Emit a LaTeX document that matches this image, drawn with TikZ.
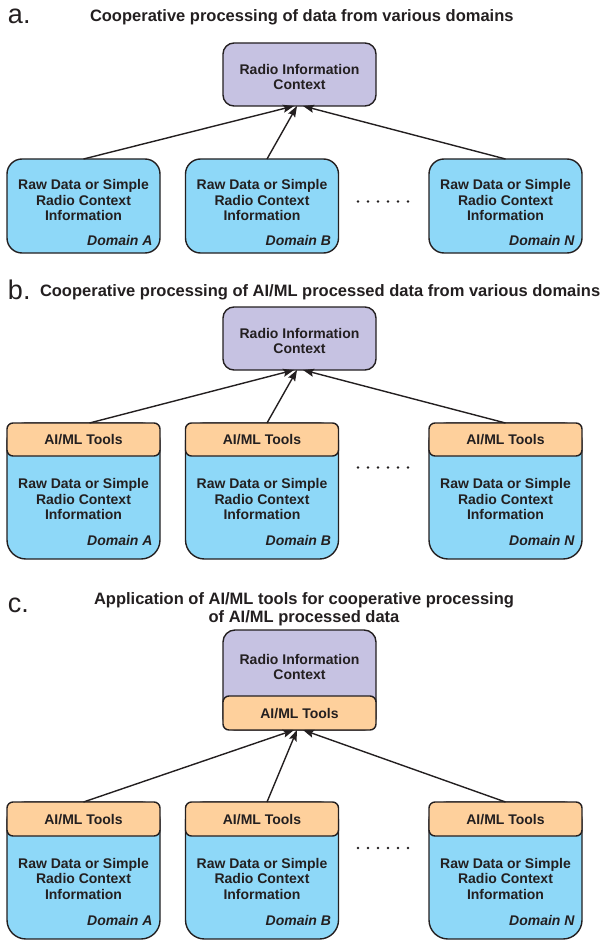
\documentclass[tikz,border=0pt]{standalone}
\usepackage{fontspec}
\setmainfont{Liberation Sans}
\usetikzlibrary{arrows.meta,calc}
\definecolor{ctxfill}{HTML}{C6C2E2}
\definecolor{rawfill}{HTML}{8ED8F8}
\definecolor{toolfill}{HTML}{FED09C}
\definecolor{ink}{HTML}{231F20}
\begin{document}
\begin{tikzpicture}[x=1pt,y=-1pt,
  every node/.style={inner sep=0pt, outer sep=0pt, text=ink},
  shapebase/.style={draw=ink, line width=1.4pt},
  ctxbox/.style={shapebase, fill=ctxfill, rounded corners=11pt, minimum width=153pt},
  rawbox/.style={shapebase, fill=rawfill, rounded corners=15pt, minimum width=153pt},
  toolrawbox/.style={shapebase, fill=rawfill, rounded corners=19pt, minimum width=153pt, minimum height=136pt},
  toolbar/.style={shapebase, fill=toolfill, rounded corners=6pt, minimum width=153pt, minimum height=33pt},
  bodytxt/.style={font=\bfseries\fontsize{14}{15.5}\selectfont, align=center},
  domtxt/.style={font=\bfseries\itshape\fontsize{14}{15.5}\selectfont, anchor=base east},
  titletxt/.style={font=\bfseries\fontsize{16.5}{18}\selectfont, anchor=base west},
  paneltxt/.style={font=\fontsize{27}{28}\selectfont, anchor=base west},
  conn/.style={draw=ink, line width=1.4pt, -{Stealth[length=11pt,width=8pt,inset=2pt]}},
  dotmark/.style={fill=ink}
]
\useasboundingbox (0,0) rectangle (604,941);

% ================= panel a =================
\node[paneltxt] (la) at (8,24) {a.};
\node[titletxt] (ta) at (90,21.5) {Cooperative processing of data from various domains};
\node[ctxbox, minimum height=63pt] (actx) at (299.5,74.5) {};
\node[bodytxt] (actxt) at (299.5,77) {Radio Information\\Context};
\foreach \n/\cx/\d in {A/83.5/A, B/262/B, N/505.5/N}{
  \node[rawbox, minimum height=94pt] (a\n) at (\cx,206) {};
  \node[bodytxt] (at\n) at (\cx,200) {Raw Data or Simple\\Radio Context\\Information};
  \node[domtxt] (ad\n) at ($(\cx,245)+(69,0)$) {Domain \d};
}
\foreach \i in {0,...,5}{ \fill[dotmark] (358+10*\i,201.5) circle (1.4); }
\draw[conn] (aA.north) -- ($(actx.south)+(-5.5,0)$);
\draw[conn] ($(aB.north)+(5,0)$) -- ($(actx.south)+(-2.5,0)$);
\draw[conn] (aN.north) -- ($(actx.south)+(3.5,0)$);

% ================= panel b =================
\node[paneltxt] (lb) at (8,299) {b.};
\node[titletxt] (tb) at (40,296) {Cooperative processing of AI/ML processed data from various domains};
\node[ctxbox, minimum height=63pt] (bctx) at (299.5,338.5) {};
\node[bodytxt] (bctxt) at (299.5,341) {Radio Information\\Context};
\foreach \n/\cx/\d in {A/83.5/A, B/262/B, N/505.5/N}{
  \node[toolrawbox] (b\n) at (\cx,491) {};
  \node[toolbar] (bb\n) at (\cx,439.5) {};
  \node[bodytxt] (bbt\n) at (\cx,440) {AI/ML Tools};
  \node[bodytxt] (bt\n) at (\cx,499) {Raw Data or Simple\\Radio Context\\Information};
  \node[domtxt] (bd\n) at ($(\cx,545)+(69,0)$) {Domain \d};
}
\foreach \i in {0,...,5}{ \fill[dotmark] (358+10*\i,467.5) circle (1.4); }
\draw[conn] ($(bbA.north)+(6,0)$) -- ($(bctx.south)+(-5.5,0)$);
\draw[conn] ($(bbB.north)+(5,0)$) -- ($(bctx.south)+(-2.5,0)$);
\draw[conn] (bbN.north) -- ($(bctx.south)+(3.5,0)$);

% ================= panel c =================
\node[paneltxt] (lc) at (8,612) {c.};
\node[font=\bfseries\fontsize{16.5}{18}\selectfont, align=center] (tc) at (304,609) {Application of AI/ML tools for cooperative processing\\of AI/ML processed data};
\node[ctxbox, minimum height=100pt, rounded corners=12pt] (cctx) at (299.5,680) {};
\node[toolbar, minimum height=34pt] (cctool) at (299.5,713) {};
\node[bodytxt] (cctxt) at (299.5,667) {Radio Information\\Context};
\node[bodytxt] (cctoolt) at (299.5,713.5) {AI/ML Tools};
\foreach \n/\cx/\d in {A/83.5/A, B/262/B, N/505.5/N}{
  \node[toolrawbox, minimum height=137pt] (c\n) at (\cx,870.5) {};
  \node[toolbar, minimum height=34pt] (cb\n) at (\cx,819) {};
  \node[bodytxt] (cbt\n) at (\cx,820) {AI/ML Tools};
  \node[bodytxt] (ct\n) at (\cx,878.5) {Raw Data or Simple\\Radio Context\\Information};
  \node[domtxt] (cd\n) at ($(\cx,925)+(69,0)$) {Domain \d};
}
\foreach \i in {0,...,5}{ \fill[dotmark] (358+10*\i,848) circle (1.4); }
\draw[conn] (cbA.north) -- ($(cctool.south)+(-5.5,0)$);
\draw[conn] ($(cbB.north)+(5,0)$) -- ($(cctool.south)+(-2.5,0)$);
\draw[conn] (cbN.north) -- ($(cctool.south)+(3.5,0)$);
\end{tikzpicture}
\end{document}
